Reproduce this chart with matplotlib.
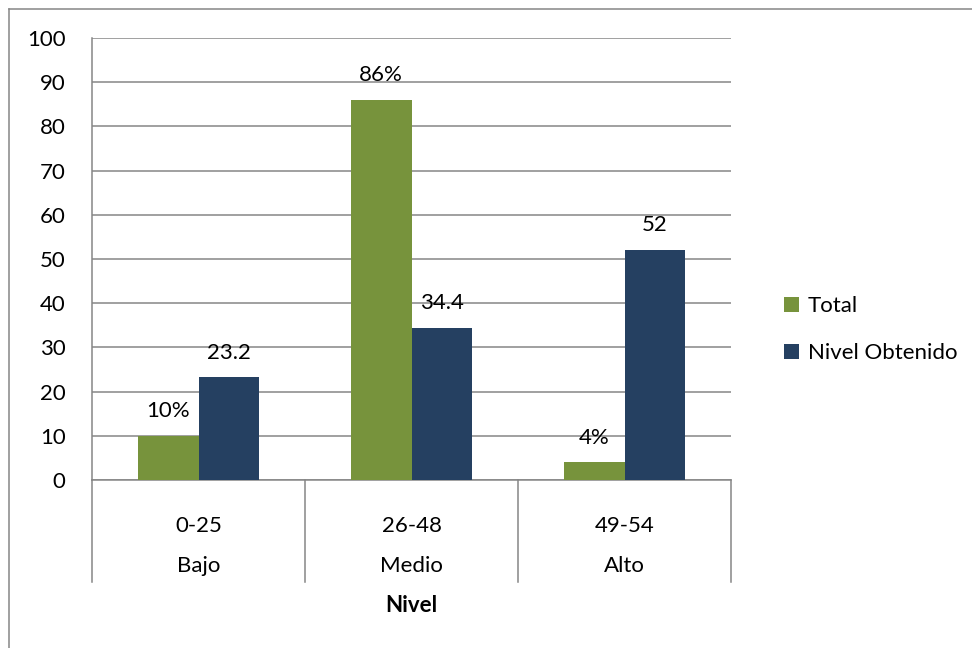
import matplotlib.pyplot as plt
from matplotlib.lines import Line2D
import numpy as np

plt.rcParams['font.family'] = ['Lato', 'DejaVu Sans']

rangos = ['0-25', '26-48', '49-54']
niveles = ['Bajo', 'Medio', 'Alto']
total = [10, 86, 4]
total_labels = ['10%', '86%', '4%']
obtenido = [23.2, 34.4, 52]

green = '#77933C'
navy = '#254061'
grey = '#868686'
fs = 16

fig = plt.figure(figsize=(9.72, 6.48), dpi=100)
ax = fig.add_axes([0.0947, 0.2593, 0.6574, 0.6821])

x = np.arange(len(rangos))
w = 1 / 3.5
b1 = ax.bar(x - w / 2, total, w, color=green, label='Total', zorder=3)
b2 = ax.bar(x + w / 2, obtenido, w, color=navy, label='Nivel Obtenido', zorder=3)

# data labels above the bars
for rect, txt in zip(b1, total_labels):
    ax.annotate(txt, (rect.get_x() + rect.get_width() / 2, rect.get_height()),
                xytext=(0, 13.5), textcoords='offset points',
                ha='center', va='baseline', fontsize=fs)
for rect, v in zip(b2, obtenido):
    ax.annotate(f'{v:g}', (rect.get_x() + rect.get_width() / 2, rect.get_height()),
                xytext=(0, 13.5), textcoords='offset points',
                ha='center', va='baseline', fontsize=fs)

ax.set_xlim(-0.5, len(rangos) - 0.5)
ax.set_ylim(0, 100)
ax.set_yticks(range(0, 101, 10))
ax.tick_params(axis='y', length=0, pad=19, labelsize=fs)
ax.set_xticks([])
ax.yaxis.grid(True, color=grey, lw=1.1, zorder=0)
for s in ['top', 'right']:
    ax.spines[s].set_visible(False)
for s in ['left', 'bottom']:
    ax.spines[s].set_color(grey)
    ax.spines[s].set_linewidth(1.1)

# two-level category axis with separators
tr = ax.get_xaxis_transform()
for xb in np.arange(-0.5, len(rangos), 1.0):
    ax.add_line(Line2D([xb, xb], [0, -0.231], transform=tr, color=grey,
                       lw=1.1, clip_on=False))
for i in x:
    ax.text(i, -0.1035, rangos[i], transform=tr, ha='center', va='center', fontsize=fs)
    ax.text(i, -0.195, niveles[i], transform=tr, ha='center', va='center', fontsize=fs)
ax.text(1, -0.285, 'Nivel', transform=tr, ha='center', va='center',
        fontsize=fs, fontweight='bold')

ax.legend(loc='center left', bbox_to_anchor=(1.066, 0.34), frameon=False,
          fontsize=fs, handlelength=0.68, handleheight=0.68,
          handletextpad=0.38, labelspacing=1.2, borderpad=0)

# outer chart border (top and left edges)
fig.add_artist(Line2D([0.0093, 1.0], [0.986, 0.986], color=grey, lw=1.1))
fig.add_artist(Line2D([0.0093, 0.0093], [0.0, 0.986], color=grey, lw=1.1))

fig.savefig('out.png', dpi=100)
